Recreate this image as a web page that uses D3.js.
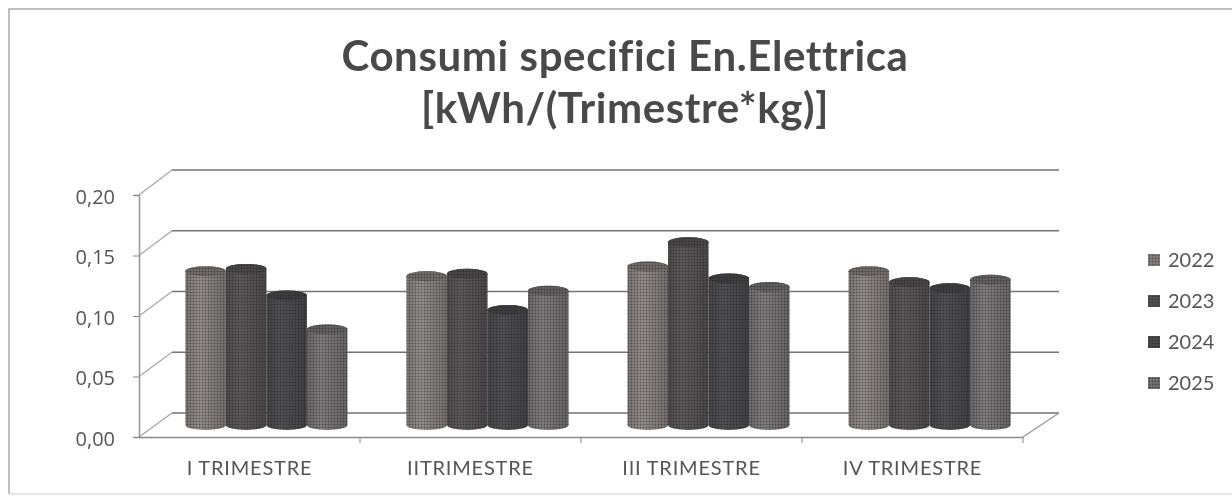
<!DOCTYPE html>
<html>
<head>
<meta charset="utf-8">
<style>
  body { margin: 0; background: #fff; }
  text { font-family: Lato, "Open Sans", sans-serif; fill: #555; }
</style>
<script src="https://cdn.jsdelivr.net/npm/d3@7"></script>
</head>
<body>
<script>
const w = 1232
const h = 497

const titleLines = ['Consumi specifici En.Elettrica', '[kWh/(Trimestre*kg)]']
const quarters = ['I TRIMESTRE', 'IITRIMESTRE', 'III TRIMESTRE', 'IV TRIMESTRE']
const years = ['2022', '2023', '2024', '2025']
const yTicks = [0, 0.05, 0.10, 0.15, 0.20]

const values2022 = [0.127, 0.123, 0.131, 0.127]
const values2023 = [0.129, 0.125, 0.151, 0.118]
const values2024 = [0.107, 0.095, 0.121, 0.113]
const values2025 = [0.079, 0.111, 0.114, 0.120]
const seriesValues = [values2022, values2023, values2024, values2025]

const colors = ['#888280', '#565254', '#4a4a4d', '#777375']

const svg = d3.select('body').append('svg')
  .attr('width', w)
  .attr('height', h)

const defs = svg.append('defs')

// scan look: soft edges + halftone dots on the bars
defs.append('filter').attr('id', 'scan')
  .append('feGaussianBlur').attr('stdDeviation', 0.7)

const dots = defs.append('pattern')
  .attr('id', 'dots')
  .attr('width', 3)
  .attr('height', 3)
  .attr('patternUnits', 'userSpaceOnUse')
dots.append('circle')
  .attr('cx', 1.5)
  .attr('cy', 1.5)
  .attr('r', 1)
  .attr('fill', '#1c1c1c')
  .attr('opacity', 0.5)

colors.forEach((c, i) => {
  const g = defs.append('linearGradient').attr('id', `cyl${i}`)
  g.append('stop').attr('offset', '0%').attr('stop-color', d3.color(c).darker(0.25))
  g.append('stop').attr('offset', '35%').attr('stop-color', d3.color(c).brighter(0.3))
  g.append('stop').attr('offset', '100%').attr('stop-color', d3.color(c).darker(0.4))
})

const chart = svg.append('g').attr('filter', 'url(#scan)')

// frame
chart.append('path')
  .attr('d', `M9,${h - 3}V9H${w}`)
  .attr('fill', 'none')
  .attr('stroke', '#aaa')
  .attr('stroke-width', 1.5)
chart.append('line')
  .attr('x1', 9).attr('x2', w)
  .attr('y1', h - 3).attr('y2', h - 3)
  .attr('stroke', '#ddd')
  .attr('stroke-width', 1.5)

// title
chart.append('g').selectAll('text').data(titleLines).join('text')
  .attr('x', 625)
  .attr('y', (d, i) => 71 + i * 52)
  .attr('text-anchor', 'middle')
  .attr('font-size', 42)
  .attr('font-weight', 700)
  .attr('letter-spacing', 0.6)
  .style('fill', '#4a4a4a')
  .text(d => d)

// three plot planes: front axis, bars, back wall
const yFront = d3.scaleLinear().domain([0, 0.2]).range([437, 195])
const yBack = d3.scaleLinear().domain([0, 0.2]).range([413, 170])
const yBar = d3.scaleLinear().domain([0, 0.2]).range([425, 183])

const xFront = d3.scaleBand().domain(quarters).range([139, 1023])
const xBack = d3.scaleBand().domain(quarters).range([172, 1059])
const xBar = d3.scaleBand().domain(quarters).range([156, 1040])
  .paddingInner(0.267).paddingOuter(0.133)
const xYear = d3.scaleBand().domain(years).range([0, xBar.bandwidth()])

// back wall gridlines and side wall lines
const grid = chart.append('g')
  .attr('stroke', '#757575')
  .attr('stroke-width', 1.4)
  .attr('fill', 'none')
grid.selectAll('.back').data(yTicks).join('line')
  .attr('class', 'back')
  .attr('x1', xBack.range()[0]).attr('x2', xBack.range()[1])
  .attr('y1', d => yBack(d)).attr('y2', d => yBack(d))
grid.selectAll('.side').data(yTicks).join('line')
  .attr('class', 'side')
  .attr('x1', xFront.range()[0]).attr('x2', xBack.range()[0])
  .attr('y1', d => yFront(d)).attr('y2', d => yBack(d))
  .attr('stroke', '#aaa')
grid.append('line')
  .attr('x1', xFront.range()[1]).attr('x2', xBack.range()[1])
  .attr('y1', yFront(0)).attr('y2', yBack(0))
  .attr('stroke', '#999')

// front axes
const yAxis = d3.axisLeft(yFront)
  .tickValues(yTicks)
  .tickSize(6)
  .tickPadding(18)
  .tickFormat(d => d3.format('.2f')(d).replace('.', ','))
const yAxisG = chart.append('g')
  .attr('transform', `translate(${xFront.range()[0]},0)`)
  .call(yAxis)
yAxisG.selectAll('text').attr('font-size', 20).attr('dy', '0.42em').style('font-family', '"Open Sans"').style('fill', '#555')
yAxisG.selectAll('line').attr('stroke', '#888')
yAxisG.select('.domain').attr('stroke', '#999').attr('stroke-width', 1.6)

const xAxis = d3.axisBottom(xFront).tickSize(0).tickPadding(24)
const xAxisG = chart.append('g')
  .attr('transform', `translate(0,${yFront(0)})`)
  .call(xAxis)
xAxisG.selectAll('text').attr('font-size', 20).attr('letter-spacing', 0.8).style('fill', '#555')
xAxisG.select('.domain').attr('stroke', '#8a8a8a').attr('stroke-width', 1.4)
xAxisG.selectAll('.sep').data(xFront.domain()).join('line')
  .attr('class', 'sep')
  .attr('x1', d => xFront(d) + xFront.step())
  .attr('x2', d => xFront(d) + xFront.step())
  .attr('y1', 0).attr('y2', 6)
  .attr('stroke', '#888')

// cylinders
const ry = 5
function cylinder (x, width, top, base) {
  const rx = width / 2
  return `M${x},${top}A${rx},${ry} 0 0 1 ${x + width},${top}V${base}A${rx},${ry} 0 0 1 ${x},${base}Z`
}

const bars = []
years.forEach((y, s) => {
  quarters.forEach((q, i) => bars.push({ q, y, s, v: seriesValues[s][i] }))
})

const barG = chart.append('g').selectAll('g').data(bars).join('g')
barG.append('path')
  .attr('d', d => cylinder(xBar(d.q) + xYear(d.y), xYear.bandwidth(), yBar(d.v), yBar(0)))
  .attr('fill', d => `url(#cyl${d.s})`)
barG.append('ellipse')
  .attr('cx', d => xBar(d.q) + xYear(d.y) + xYear.bandwidth() / 2)
  .attr('cy', d => yBar(d.v))
  .attr('rx', xYear.bandwidth() / 2)
  .attr('ry', ry)
  .attr('fill', d => d3.color(colors[d.s]).darker(0.5))
barG.append('path')
  .attr('d', d => cylinder(xBar(d.q) + xYear(d.y), xYear.bandwidth(), yBar(d.v), yBar(0)))
  .attr('fill', 'url(#dots)')

// legend
const yLegend = d3.scalePoint().domain(years).range([260, 383])
const legend = chart.append('g').selectAll('g').data(years).join('g')
  .attr('transform', d => `translate(1148,${yLegend(d)})`)
legend.append('rect')
  .attr('x', 0).attr('y', -6)
  .attr('width', 12).attr('height', 12)
  .attr('fill', (d, i) => colors[i])
legend.append('rect')
  .attr('x', 0).attr('y', -6)
  .attr('width', 12).attr('height', 12)
  .attr('fill', 'url(#dots)')
legend.append('text')
  .attr('x', 20)
  .attr('y', 7)
  .attr('font-size', 20)
  .text(d => d)
</script>
</body>
</html>
